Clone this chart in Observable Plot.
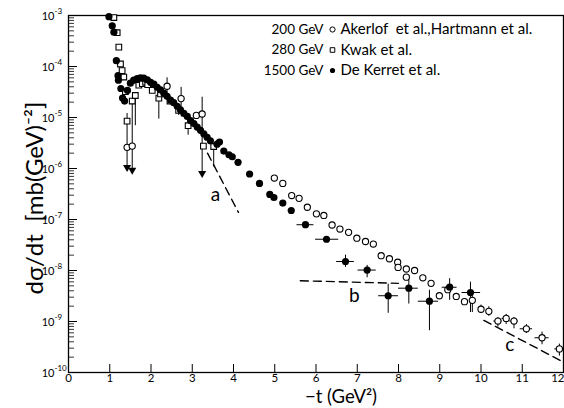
<!DOCTYPE html>
<html><head><meta charset="utf-8">
<script src="https://cdn.jsdelivr.net/npm/d3@7"></script>
<script src="https://cdn.jsdelivr.net/npm/@observablehq/plot@0.6"></script>
<style>body{margin:0;background:#fff}</style>
</head><body><div id="chart"></div>
<script>
// ---- 1500 GeV, De Kerret et al. (filled circles)
const t1500 = [0.98,1.06,1.10,1.16,1.20,1.21,1.27,1.31,1.36,1.43,1.50,1.58,1.665,1.745,1.825,1.91,1.99,2.07,2.15,2.23,2.31,2.39,2.47,2.55,2.635,2.715,2.795,2.88,2.96,3.04,3.12,3.20,3.28,3.36,3.44,3.60,3.66,3.765,3.89,3.97,4.11,4.39,4.63,4.88,4.98,5.195,5.40,5.745,6.255,6.715,7.24,7.75,8.25,8.75,9.24,9.745];
const v1500 = [9.5e-4,6.3e-4,4.7e-4,1.3e-4,6.6e-5,5.4e-5,3.7e-5,2.4e-5,2.1e-5,3.4e-5,4.7e-5,5.4e-5,5.8e-5,6.0e-5,5.9e-5,5.5e-5,4.9e-5,4.5e-5,3.9e-5,3.5e-5,3.0e-5,2.6e-5,2.2e-5,1.95e-5,1.66e-5,1.41e-5,1.2e-5,1.05e-5,8.7e-6,7.6e-6,6.5e-6,5.6e-6,4.8e-6,4.1e-6,3.5e-6,3.0e-6,3.3e-6,2.2e-6,1.86e-6,1.7e-6,1.32e-6,7.8e-7,5.1e-7,3.1e-7,2.7e-7,2.1e-7,1.5e-7,7.9e-8,4.1e-8,1.5e-8,1.02e-8,3.2e-9,4.5e-9,2.5e-9,4.7e-9,3.7e-9];
// vertical error bars (1500 GeV)
const e1500t  = [6.715,7.24,7.75,8.25,8.75,9.24,9.745];
const e1500hi = [2.0e-8,1.26e-8,5.4e-9,7.9e-9,4.1e-9,6.9e-9,5.9e-9];
const e1500lo = [1.15e-8,7.2e-9,1.45e-9,2.2e-9,6.6e-10,2.6e-9,1.5e-9];
// horizontal error bars (1500 GeV)
const h1500v  = [7.9e-8,4.1e-8,1.5e-8,1.02e-8,3.2e-9,4.5e-9,2.5e-9,4.7e-9,3.7e-9];
const h1500t1 = [5.54,5.99,6.50,7.02,7.52,8.00,8.48,9.06,9.54];
const h1500t2 = [5.95,6.55,6.93,7.46,8.00,8.48,8.97,9.42,9.99];

// ---- 200 GeV, Akerlof et al., Hartmann et al. (open circles)
const t200 = [1.42,1.545,2.39,2.73,3.10,3.24,4.99,5.195,5.41,5.59,5.79,6.01,6.19,6.39,6.58,6.79,6.99,7.20,7.39,7.58,7.78,7.98,7.99,8.19,8.39,8.19,8.59,8.79,8.99,9.195,9.40,9.60,9.79,10.0,10.19,10.41,10.61,10.80,11.10,11.48,11.90];
const v200 = [2.6e-6,2.75e-6,4.1e-5,2.35e-5,1.1e-5,1.17e-5,6.5e-7,5.1e-7,2.95e-7,2.6e-7,1.74e-7,1.29e-7,1.2e-7,7.8e-8,6.5e-8,5.6e-8,4.3e-8,3.7e-8,3.3e-8,1.95e-8,1.7e-8,1.45e-8,1.15e-8,1.07e-8,1.0e-8,7.4e-9,7.2e-9,5.6e-9,3.2e-9,4.2e-9,3.1e-9,2.45e-9,2.6e-9,1.74e-9,1.58e-9,1.02e-9,1.15e-9,1.02e-9,7.2e-10,4.8e-10,2.9e-10];
const e200t  = [2.39,2.73,9.79,10.0,10.19,10.41,10.61,10.80,11.10,11.48,11.90];
const e200hi = [6.0e-5,3.9e-5,3.2e-9,2.1e-9,1.95e-9,1.2e-9,1.38e-9,1.2e-9,8.7e-10,6.2e-10,3.6e-10];
const e200lo = [2.9e-5,1.38e-5,1.5e-9,1.45e-9,1.26e-9,7.8e-10,8.7e-10,7.2e-10,5.8e-10,3.5e-10,2.1e-10];
const h200v  = [1.02e-9,1.15e-9,1.02e-9,7.2e-10,4.8e-10,2.9e-10];
const h200t1 = [10.31,10.51,10.70,10.95,11.31,11.79];
const h200t2 = [10.51,10.71,10.90,11.25,11.65,12.0];

// ---- 280 GeV, Kwak et al. (open squares)
const t280 = [1.10,1.18,1.22,1.26,1.30,1.34,1.38,1.42,1.545,1.62,1.705,1.79,1.87,1.92,2.03,2.19,2.23,2.46,2.67,2.90,3.27,3.52];
const v280 = [9.1e-4,4.6e-4,2.4e-4,1.12e-4,8.3e-5,6.2e-5,3.2e-5,8.5e-6,2.1e-5,2.7e-5,4.3e-5,4.6e-5,4.9e-5,4.4e-5,3.4e-5,2.4e-5,2.9e-5,2.1e-5,1.38e-5,6.9e-6,2.75e-6,2.7e-6];
const e280t  = [1.62,2.19,2.67,2.90,3.52];
const e280hi = [2.7e-5,2.4e-5,1.74e-5,8.7e-6,2.7e-6];
const e280lo = [6.9e-6,9.3e-6,1.1e-5,4.5e-6,1.07e-6];

// ---- upper-limit arrows (downward)
const arrT    = [1.42,1.545,3.24];
const arrFrom = [1.2e-5,1.9e-5,2.5e-5];
const arrTo   = [1.05e-6,9.3e-7,8.0e-7];

// ---- dashed curves a, b, c
const curveA = {t: [3.37,4.12], v: [2.0e-6,1.38e-7]};
const curveB = {t: [5.62,8.0], v: [6.3e-9,5.6e-9]};
const curveC = {t: [10.07,12.0], v: [1.05e-9,1.6e-10]};
const curveLabels = ["a","b","c"];
const curveLabelT = [3.56,6.93,10.7];
const curveLabelV = [3.0e-7,3.2e-9,3.4e-10];

// ---- ticks and texts
const xTicks = [0,1,2,3,4,5,6,7,8,9,10,11,12];
const yTicks = [1e-10,1e-9,1e-8,1e-7,1e-6,1e-5,1e-4,1e-3];
const yTickExp = ["-10","-9","-8","-7","-6","-5","-4","-3"];
const legendEnergy = ["200 GeV","280 GeV","1500 GeV"];
const legendAuthor = ["Akerlof  et al.,Hartmann et al.","Kwak et al.","De Kerret et al."];
const xTitle = "−t (GeV²)";
const yTitle = "dσ/dt  [mb(GeV)⁻²]";

// ---- build
const yMinor = [];
for (let i = 0; i < yTicks.length - 1; i++) for (let m = 2; m <= 9; m++) yMinor.push(yTicks[i] * m);

const pts = (ts, vs) => ts.map((t, i) => ({t, v: vs[i]}));
const vbars = (ts, hi, lo) => ts.map((t, i) => ({t, hi: hi[i], lo: lo[i]}));
const hbars = (vs, a, b) => vs.map((v, i) => ({v, t1: a[i], t2: b[i]}));
const arrows = arrT.map((t, i) => ({t, from: arrFrom[i], to: arrTo[i]}));
const labels = curveLabels.map((s, i) => ({s, t: curveLabelT[i], v: curveLabelV[i]}));
const yLab = yTicks.map((v, i) => ({v, e: yTickExp[i]}));

const W = 564, H = 408, mL = 68, mR = 1, mT = 15, mB = 36;
const plotW = W - mL - mR, plotH = H - mT - mB;
const font = "Lato, 'Open Sans', sans-serif";
const sym = ["circle","square","circle"];
const symFill = ["white","white","black"];

const marks = [
  Plot.frame({stroke: "black", strokeWidth: 1.3}),
  // x tick labels
  Plot.text(xTicks.slice(0, -1), {x: d => d, text: d => String(d), frameAnchor: "bottom", lineAnchor: "top", dy: 1, fontSize: 11.5, fontFamily: font}),
  Plot.text(xTicks.slice(-1), {x: d => d, text: d => String(d), frameAnchor: "bottom", lineAnchor: "top", textAnchor: "end", dx: 1, dy: 1, fontSize: 11.5, fontFamily: font}),
  // y tick labels: "10" plus raised exponent
  Plot.text(yLab, {y: "v", text: () => "10", frameAnchor: "left", textAnchor: "end", dx: -14, dy: 1, fontSize: 11, fontFamily: font}),
  Plot.text(yLab, {y: "v", text: "e", frameAnchor: "left", textAnchor: "start", dx: -14, dy: -4, fontSize: 8, fontFamily: font}),
  // inward ticks
  Plot.ruleX(xTicks.slice(1, -1), {x: d => d, insetTop: plotH - 8, stroke: "black", strokeWidth: 1}),
  Plot.ruleY(yTicks, {y: d => d, insetRight: plotW - 9, stroke: "black", strokeWidth: 1}),
  Plot.ruleY(yMinor, {y: d => d, insetRight: plotW - 6, stroke: "black", strokeWidth: 0.8}),
  // dashed curves
  ...[curveA, curveB, curveC].map(c => Plot.line(pts(c.t, c.v), {x: "t", y: "v", stroke: "black", strokeWidth: 1.4, strokeDasharray: "8,5"})),
  Plot.text(labels, {x: "t", y: "v", text: "s", fontSize: 19, fontFamily: font}),
  // error bars
  Plot.ruleX(vbars(e1500t, e1500hi, e1500lo), {x: "t", y1: "lo", y2: "hi", stroke: "black", strokeWidth: 1}),
  Plot.ruleY(hbars(h1500v, h1500t1, h1500t2), {y: "v", x1: "t1", x2: "t2", stroke: "black", strokeWidth: 1}),
  Plot.ruleX(vbars(e200t, e200hi, e200lo), {x: "t", y1: "lo", y2: "hi", stroke: "black", strokeWidth: 1}),
  Plot.ruleY(hbars(h200v, h200t1, h200t2), {y: "v", x1: "t1", x2: "t2", stroke: "black", strokeWidth: 1}),
  Plot.ruleX(vbars(e280t, e280hi, e280lo), {x: "t", y1: "lo", y2: "hi", stroke: "black", strokeWidth: 1}),
  Plot.ruleX(arrows, {x: "t", y1: "to", y2: "from", stroke: "black", strokeWidth: 1}),
  Plot.dot(arrows, {x: "t", y: "to", symbol: "triangle", rotate: 180, r: 3, fill: "black", stroke: "none"}),
  // points
  Plot.dot(pts(t200, v200), {x: "t", y: "v", symbol: "circle", r: 3.1, fill: "white", stroke: "black", strokeWidth: 1.1}),
  Plot.dot(pts(t280, v280), {x: "t", y: "v", symbol: "square", r: 3.2, fill: "white", stroke: "black", strokeWidth: 1.1}),
  Plot.dot(pts(t1500, v1500), {x: "t", y: "v", symbol: "circle", r: 3.6, fill: "black", stroke: "none"}),
  // titles
  Plot.text([yTitle], {text: d => d, frameAnchor: "left", textAnchor: "middle", lineAnchor: "middle", rotate: -90, dx: -33, dy: 4, fontSize: 24, fontFamily: font}),
  Plot.text([xTitle], {text: d => d, frameAnchor: "bottom", textAnchor: "middle", lineAnchor: "middle", dx: 25, dy: 24.5, fontSize: 18.5, fontFamily: font}),
  // legend
  ...legendEnergy.flatMap((e, i) => [
    Plot.text([e], {text: d => d, frameAnchor: "top-left", textAnchor: "end", lineAnchor: "middle", dx: 255, dy: 14 + i * 20.5, fontSize: 13.5, fontFamily: font}),
    Plot.dot([e], {frameAnchor: "top-left", dx: 264, dy: 14 + i * 20.5, symbol: sym[i], r: 2.6, fill: symFill[i], stroke: i === 2 ? "none" : "black", strokeWidth: 1}),
    Plot.text([legendAuthor[i]], {text: d => d, frameAnchor: "top-left", textAnchor: "start", lineAnchor: "middle", dx: 272, dy: 14 + i * 20.5, fontSize: 15, fontFamily: font})
  ])
];

const chart = Plot.plot({
  width: W, height: H,
  marginLeft: mL, marginRight: mR, marginTop: mT, marginBottom: mB,
  style: {fontFamily: font, color: "black", background: "white"},
  x: {domain: [0, 12], axis: null},
  y: {type: "log", domain: [1e-10, 1e-3], axis: null},
  marks
});
document.getElementById("chart").append(chart);
</script></body></html>
